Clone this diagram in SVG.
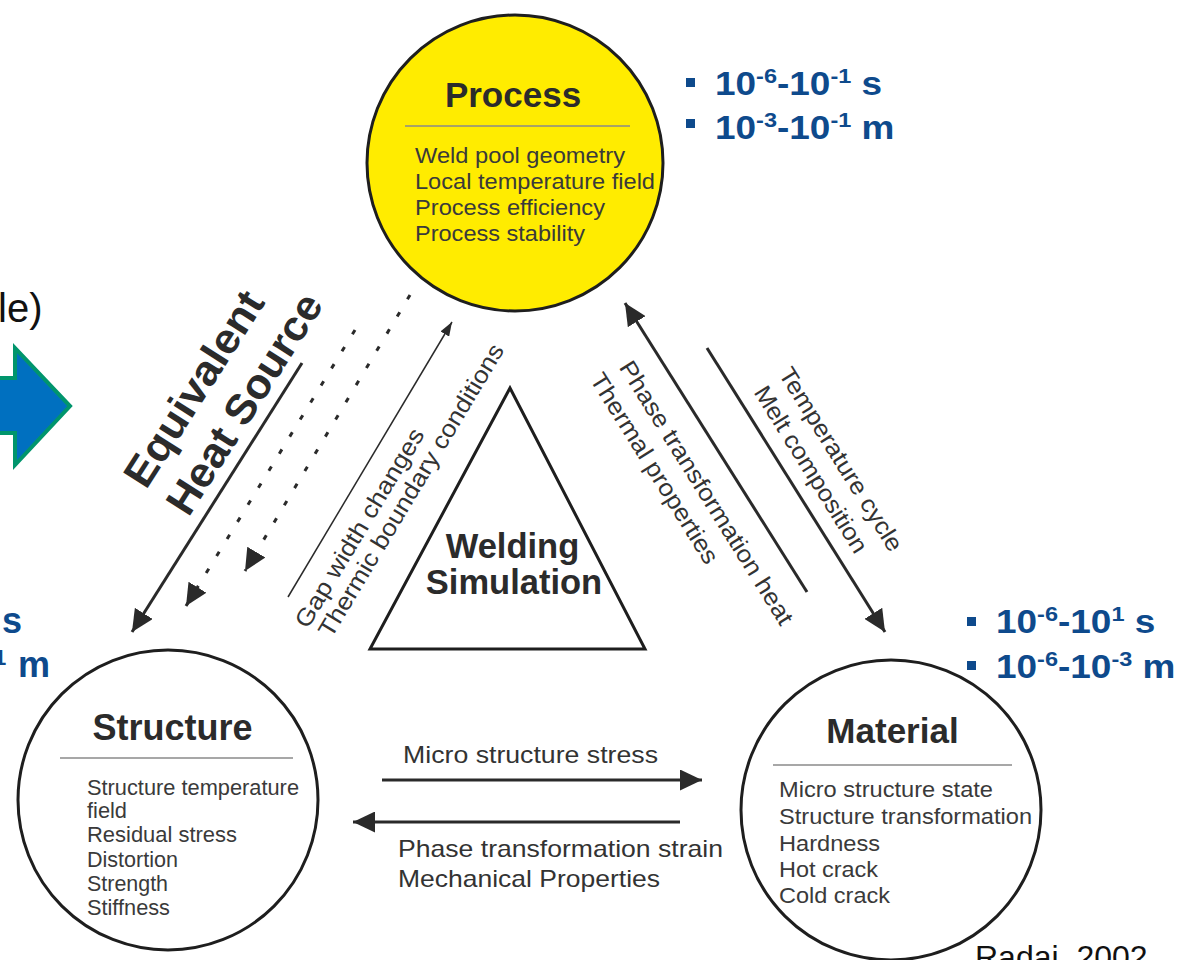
<svg xmlns="http://www.w3.org/2000/svg" width="1184" height="960" viewBox="0 0 1184 960">
<defs>
<style>
text{font-family:"Liberation Sans",Arial,Helvetica,sans-serif}
.ring{stroke:#1e1e1e;stroke-width:3}
.title{font-weight:bold;fill:#2b2b2b;text-anchor:middle}
.item{font-size:22px;fill:#3a3a3a}
.sep{stroke:#8a8a8a;stroke-width:1.5}
.lbl{font-size:24px;fill:#333}
.big{font-size:42px;font-weight:bold;fill:#2b2b2b;text-anchor:middle}
.arrow{stroke:#2a2a2a;stroke-width:3;fill:none}
.dots{stroke:#2a2a2a;stroke-width:3;stroke-dasharray:5 15;fill:none}
.thin{stroke:#2a2a2a;stroke-width:1.5;fill:none}
.blue{fill:#0E4A8C;font-weight:bold}
.bullet{fill:#0E4A8C}
</style>
<marker id="head" markerUnits="userSpaceOnUse" markerWidth="22" markerHeight="21" refX="22" refY="10.5" orient="auto" viewBox="0 0 22 21">
<path d="M0,0 L22,10.5 L0,21 z" fill="#2a2a2a"/>
</marker>
<marker id="headS" markerUnits="userSpaceOnUse" markerWidth="14" markerHeight="10" refX="14" refY="5" orient="auto" viewBox="0 0 14 10">
<path d="M0,0 L14,5 L0,10 z" fill="#2a2a2a"/>
</marker>
</defs>
<rect width="1184" height="960" fill="#fff"/>

<!-- slide fragments at the left edge -->
<g id="slide-left">
<text x="-2" y="322" font-size="40" fill="#111">le)</text>
<polygon points="-10,378 15,378 15,348 70,406 15,465 15,433 -10,433" fill="#0070C0" stroke="#00956C" stroke-width="4"/>
<text class="blue" x="2" y="633" font-size="36">s</text>
<text class="blue"><tspan x="-6" y="665" font-size="22">1</tspan><tspan x="18" y="677" font-size="36">m</tspan></text>
</g>

<!-- process node -->
<g id="process">
<circle cx="515" cy="163" r="148" fill="#FFEC00" class="ring"/>
<text class="title" x="513" y="107" font-size="35">Process</text>
<line class="sep" x1="405" y1="126" x2="630" y2="126"/>
<text class="item" x="415" y="163" textLength="210" lengthAdjust="spacingAndGlyphs">Weld pool geometry</text>
<text class="item" x="415" y="189" textLength="240" lengthAdjust="spacingAndGlyphs">Local temperature field</text>
<text class="item" x="415" y="215" textLength="190" lengthAdjust="spacingAndGlyphs">Process efficiency</text>
<text class="item" x="415" y="241" textLength="170" lengthAdjust="spacingAndGlyphs">Process stability</text>
</g>

<!-- structure node -->
<g id="structure">
<circle cx="168" cy="800" r="150" fill="#fff" class="ring"/>
<text class="title" x="172.5" y="740" font-size="36">Structure</text>
<line class="sep" x1="60" y1="758" x2="293" y2="758"/>
<text class="item" x="87" y="795" textLength="212" lengthAdjust="spacingAndGlyphs">Structure temperature</text>
<text class="item" x="87" y="818" textLength="40" lengthAdjust="spacingAndGlyphs">field</text>
<text class="item" x="87" y="842" textLength="150" lengthAdjust="spacingAndGlyphs">Residual stress</text>
<text class="item" x="87" y="867" textLength="91" lengthAdjust="spacingAndGlyphs">Distortion</text>
<text class="item" x="87" y="891" textLength="81" lengthAdjust="spacingAndGlyphs">Strength</text>
<text class="item" x="87" y="915" textLength="83" lengthAdjust="spacingAndGlyphs">Stiffness</text>
</g>

<!-- material node -->
<g id="material">
<circle cx="891" cy="810" r="150" fill="#fff" class="ring"/>
<text class="title" x="892.5" y="743" font-size="35">Material</text>
<line class="sep" x1="773" y1="765" x2="1012" y2="765"/>
<text class="item" x="779" y="797" textLength="214" lengthAdjust="spacingAndGlyphs">Micro structure state</text>
<text class="item" x="779" y="824" textLength="253" lengthAdjust="spacingAndGlyphs">Structure transformation</text>
<text class="item" x="779" y="851" textLength="101" lengthAdjust="spacingAndGlyphs">Hardness</text>
<text class="item" x="779" y="877" textLength="99" lengthAdjust="spacingAndGlyphs">Hot crack</text>
<text class="item" x="779" y="903" textLength="111" lengthAdjust="spacingAndGlyphs">Cold crack</text>
</g>

<!-- central welding simulation triangle -->
<g id="welding-simulation">
<polygon points="510,388 370,649 645,649" fill="#fff" stroke="#1e1e1e" stroke-width="3" stroke-linejoin="miter"/>
<text class="title" x="512.5" y="558" font-size="34.5">Welding</text>
<text class="title" x="514" y="594" font-size="34.5">Simulation</text>
</g>

<!-- connectors -->
<g id="connectors">
<line class="arrow" x1="302" y1="363" x2="132" y2="632" marker-end="url(#head)"/>
<line class="dots" x1="355" y1="330" x2="186" y2="606" marker-end="url(#head)"/>
<line class="dots" x1="410" y1="295" x2="245" y2="571" marker-end="url(#head)"/>
<line class="thin" x1="288" y1="597" x2="452" y2="322" marker-end="url(#headS)"/>
<line class="arrow" x1="807" y1="592" x2="625" y2="303" marker-end="url(#head)"/>
<line class="arrow" x1="707" y1="348" x2="885" y2="632" marker-end="url(#head)"/>
<line class="arrow" x1="382" y1="780" x2="702" y2="780" marker-end="url(#head)"/>
<line class="arrow" x1="680" y1="822" x2="353" y2="822" marker-end="url(#head)"/>
</g>

<!-- connector labels -->
<g id="labels">
<text class="big" transform="translate(206,396.4) rotate(-57.5)" textLength="223" lengthAdjust="spacingAndGlyphs">Equivalent</text>
<text class="big" transform="translate(256.4,411.4) rotate(-57.5)" textLength="253" lengthAdjust="spacingAndGlyphs">Heat Source</text>
<text class="lbl" text-anchor="middle" transform="translate(366.5,532) rotate(-59)" textLength="228" lengthAdjust="spacingAndGlyphs">Gap width changes</text>
<text class="lbl" text-anchor="middle" transform="translate(418,494.5) rotate(-59)" textLength="337" lengthAdjust="spacingAndGlyphs">Thermic boundary conditions</text>
<text class="lbl" text-anchor="middle" transform="translate(699.6,497.1) rotate(58)" textLength="306" lengthAdjust="spacingAndGlyphs">Phase transformation heat</text>
<text class="lbl" text-anchor="middle" transform="translate(647.6,472.6) rotate(58)" textLength="220" lengthAdjust="spacingAndGlyphs">Thermal properties</text>
<text class="lbl" text-anchor="middle" transform="translate(834.1,463.6) rotate(58)" textLength="212" lengthAdjust="spacingAndGlyphs">Temperature cycle</text>
<text class="lbl" text-anchor="middle" transform="translate(804.1,473.6) rotate(58)" textLength="192" lengthAdjust="spacingAndGlyphs">Melt composition</text>
<text class="lbl" x="403" y="763" textLength="255" lengthAdjust="spacingAndGlyphs">Micro structure stress</text>
<text class="lbl" x="398" y="857" textLength="325" lengthAdjust="spacingAndGlyphs">Phase transformation strain</text>
<text class="lbl" x="398" y="887" textLength="262" lengthAdjust="spacingAndGlyphs">Mechanical Properties</text>
</g>

<!-- scale annotations -->
<g id="scale-process">
<rect class="bullet" x="686" y="78" width="9" height="9"/>
<rect class="bullet" x="686" y="119" width="9" height="9"/>
<g transform="translate(715,95) scale(1.12,1)"><text class="blue" font-size="33">10<tspan font-size="21" dy="-12">-6</tspan><tspan dy="12">-10</tspan><tspan font-size="21" dy="-12">-1</tspan><tspan dy="12"> s</tspan></text></g>
<g transform="translate(715,139) scale(1.12,1)"><text class="blue" font-size="33">10<tspan font-size="21" dy="-12">-3</tspan><tspan dy="12">-10</tspan><tspan font-size="21" dy="-12">-1</tspan><tspan dy="12"> m</tspan></text></g>
</g>
<g id="scale-material">
<rect class="bullet" x="967" y="617" width="9" height="9"/>
<rect class="bullet" x="967" y="661" width="9" height="9"/>
<g transform="translate(996,633) scale(1.12,1)"><text class="blue" font-size="33">10<tspan font-size="21" dy="-12">-6</tspan><tspan dy="12">-10</tspan><tspan font-size="21" dy="-12">1</tspan><tspan dy="12"> s</tspan></text></g>
<g transform="translate(996,678) scale(1.12,1)"><text class="blue" font-size="33">10<tspan font-size="21" dy="-12">-6</tspan><tspan dy="12">-10</tspan><tspan font-size="21" dy="-12">-3</tspan><tspan dy="12"> m</tspan></text></g>
</g>

<text x="975" y="968" font-size="32" fill="#111">Radaj, 2002</text>
</svg>
